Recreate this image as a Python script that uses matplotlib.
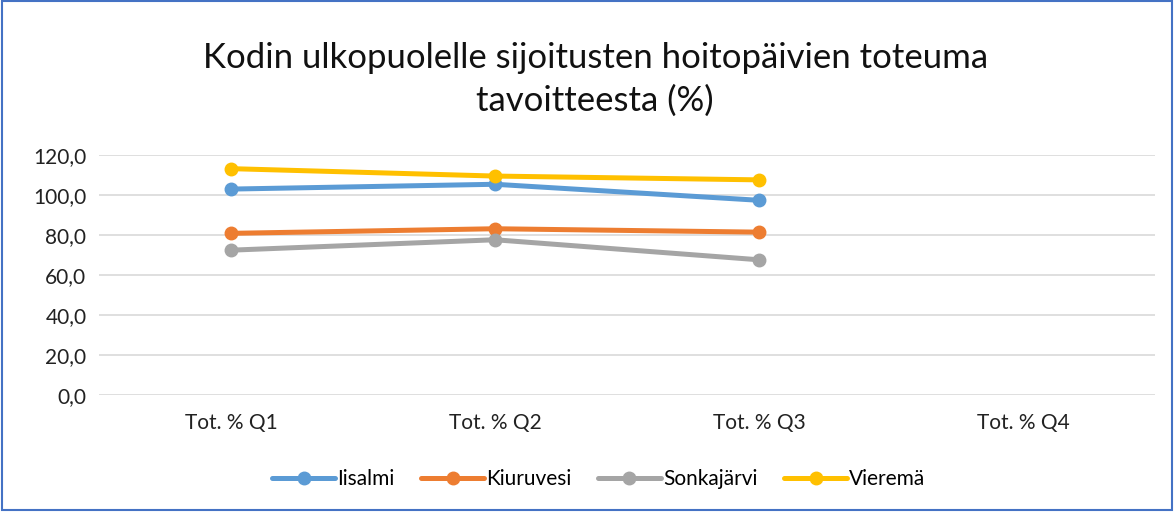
import matplotlib
matplotlib.use("Agg")
import matplotlib.pyplot as plt
from matplotlib.patches import Rectangle

categories = ["Tot. % Q1", "Tot. % Q2", "Tot. % Q3", "Tot. % Q4"]
series_names = ["Iisalmi", "Kiuruvesi", "Sonkajärvi", "Vieremä"]
iisalmi = [102.8, 105.2, 97.2]
kiuruvesi = [80.7, 83.0, 81.3]
sonkajarvi = [72.3, 77.5, 67.5]
vierema = [113.0, 109.3, 107.4]
colors = ["#5B9BD5", "#ED7D31", "#A5A5A5", "#FFC000"]
yticks = [0, 20, 40, 60, 80, 100, 120]

plt.rcParams['font.family'] = ['Lato', 'DejaVu Sans']

fig = plt.figure(figsize=(11.74, 5.12), dpi=100)
ax = fig.add_axes([0.0843, 0.2285, 0.8995, 0.4695])

x = list(range(len(categories)))
for name, vals, c in zip(series_names, [iisalmi, kiuruvesi, sonkajarvi, vierema], colors):
    ax.plot(x[:len(vals)], vals, color=c, lw=3.6, marker='o', markersize=9,
            label=name, solid_capstyle='round')

ax.set_xlim(-0.5, len(categories) - 0.5)
ax.set_ylim(0, 120)
ax.set_yticks(yticks)
ax.set_yticklabels([f"{v:.1f}".replace('.', ',') for v in yticks], fontsize=15, color='#222222')
ax.set_xticks(x)
ax.set_xticklabels(categories, fontsize=15, color='#222222')
ax.tick_params(length=0, pad=9)
ax.tick_params(axis='x', pad=13)
ax.grid(axis='y', color='#D9D9D9', lw=1.2)
ax.set_axisbelow(True)
for s in ax.spines.values():
    s.set_visible(False)

fig.text(0.507, 0.887, "Kodin ulkopuolelle sijoitusten hoitopäivien toteuma", ha='center', va='center',
         fontsize=25, color='#111111')
fig.text(0.507, 0.803, "tavoitteesta (%)", ha='center', va='center', fontsize=25, color='#111111')

leg = fig.legend(loc='center', bbox_to_anchor=(0.51, 0.064), ncol=4, frameon=False,
                 fontsize=15, handlelength=3.0, columnspacing=1.3, handletextpad=0.1)

fig.patches.append(Rectangle((0.002, 0.004), 0.996, 0.994, transform=fig.transFigure,
                             fill=False, edgecolor='#4472C4', lw=1.5))

fig.savefig("out.png", dpi=100)
